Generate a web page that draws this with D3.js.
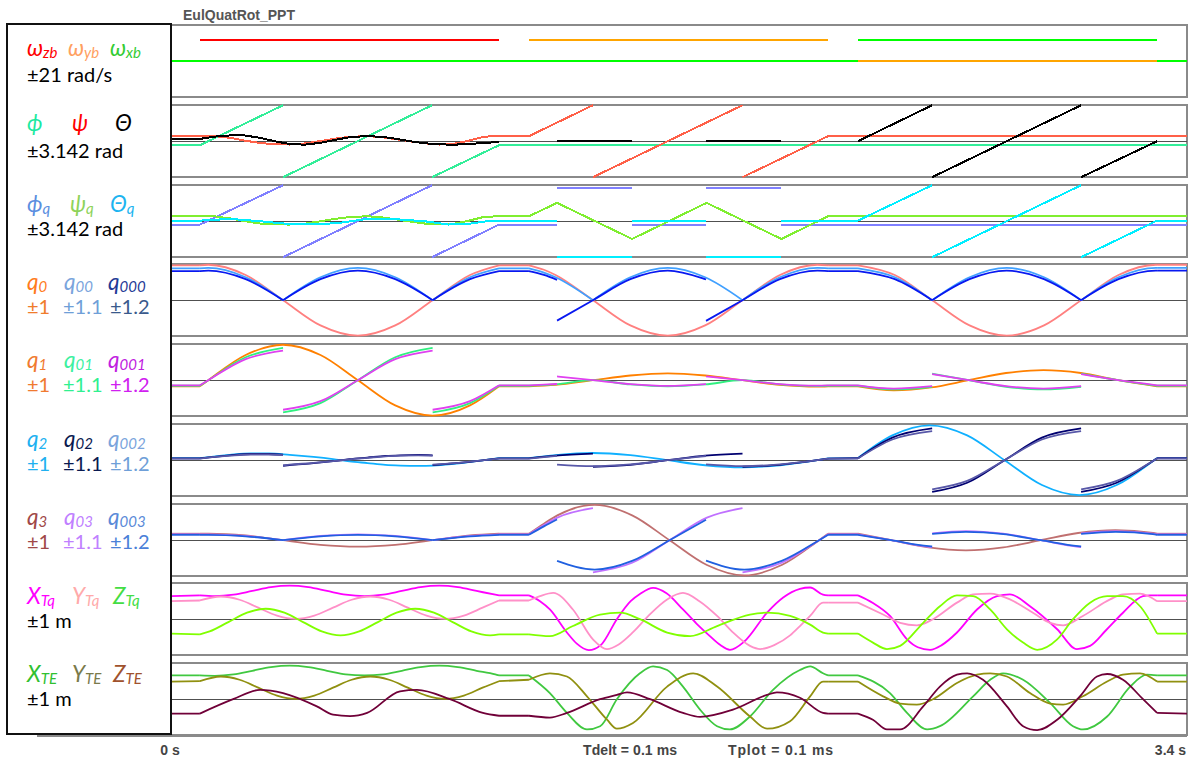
<!DOCTYPE html>
<html>
<head>
<meta charset="utf-8">
<script src="https://cdn.jsdelivr.net/npm/d3@7"></script>
<style>
  body { margin: 0; background: #fff; }
  svg { display: block; }
</style>
</head>
<body>
<svg id="chart" width="1189" height="760"></svg>
<script>
// ---------------------------------------------------------------
// Time axis and captions
// ---------------------------------------------------------------
const timeDomain = [0, 3.4];
const chartTitle = "EulQuatRot_PPT";
const timeLabels = ["0 s", "3.4 s"];
const infoLabels = ["Tdelt = 0.1 ms", "Tplot = 0.1 ms"];
// instants where the manoeuvre changes phase (traces get a corner there)
const phaseTimes = [0.1, 1.1, 1.2, 2.2, 2.3, 3.3];

// ---------------------------------------------------------------
// Traces: [time s, value], null = pen lifted (wrap or sign switch)
// ---------------------------------------------------------------
// body rates, rad/s
const wzb = [[0,0],[0.1,0],null,[0.1,12.57],[1.1,12.57],null,[1.1,0],[3.4,0]];
const wyb = [[0,0],[1.2,0],null,[1.2,12.57],[2.2,12.57],null,[2.2,0],[3.4,0]];
const wxb = [[0,0],[2.3,0],null,[2.3,12.57],[3.3,12.57],null,[3.3,0],[3.4,0]];

// Euler angles, rad
const phi = [[0,-0.35],[0.1,-0.35],[0.378,3.14],null,[0.378,-3.14],[0.876,3.14],null,[0.876,-3.14],[1.1,-0.35],[3.4,-0.35]];
const psi = [[0,0.44],[0.1,0.44],[0.15,0.44],[0.2,0.3],[0.25,0.05],[0.3,-0.15],[0.35,-0.27],[0.4,-0.29],[0.45,-0.2],[0.5,0.0],[0.55,0.22],[0.6,0.38],[0.66,0.44],[0.7,0.38],[0.75,0.2],[0.8,0.0],[0.85,-0.18],[0.9,-0.29],[0.95,-0.22],[1.0,0.05],[1.05,0.4],[1.1,0.44],[1.2,0.44],[1.414,3.14],null,[1.414,-3.14],[1.914,3.14],null,[1.914,-3.14],[2.2,0.44],[3.4,0.44]];
const theta = [[0,0.2],[0.1,0.2],[0.15,0.4],[0.2,0.5],[0.25,0.5],[0.3,0.3],[0.35,0.0],[0.4,-0.25],[0.45,-0.3],[0.5,-0.15],[0.55,0.1],[0.6,0.35],[0.66,0.45],[0.72,0.35],[0.78,0.1],[0.84,-0.15],[0.9,-0.28],[0.95,-0.3],[1.0,-0.25],[1.05,-0.15],[1.08,-0.1],[1.1,-0.05],null,[1.294,0.06],[1.545,0.06],null,[1.792,0.06],[2.043,0.06],null,[2.3,0],[2.548,3.14],null,[2.548,-3.14],[3.046,3.14],null,[3.046,-3.14],[3.3,0]];

// Euler angles recovered from the quaternion, rad
const phiQ = [[0,-0.3],[0.1,-0.3],[0.378,3.14],null,[0.378,-3.14],[0.876,3.14],null,[0.876,-3.14],[1.1,-0.3],[1.294,-0.3],null,[1.294,2.9],[1.545,2.9],null,[1.545,-0.3],[1.792,-0.3],null,[1.792,2.9],[2.043,2.9],null,[2.043,-0.3],[3.4,-0.3]];
const psiQ = [[0,0.43],[0.1,0.43],[0.15,0.42],[0.2,0.25],[0.25,0.0],[0.3,-0.2],[0.35,-0.28],[0.4,-0.29],[0.45,-0.22],[0.5,-0.02],[0.55,0.2],[0.6,0.36],[0.66,0.43],[0.7,0.36],[0.75,0.18],[0.8,-0.02],[0.85,-0.2],[0.9,-0.28],[0.95,-0.22],[1.0,0.05],[1.05,0.38],[1.1,0.43],[1.2,0.43],[1.294,1.6],[1.545,-1.55],[1.794,1.6],[2.044,-1.55],[2.2,0.43],[3.4,0.43]];
const thetaQ = [[0,0.05],[0.1,0.05],[0.2,0.2],[0.3,0.0],[0.4,-0.25],[0.5,-0.28],[0.58,-0.1],[0.66,0.2],[0.75,0.18],[0.85,0.0],[0.93,-0.29],[1.0,-0.22],[1.06,0.0],[1.1,0.05],[1.294,0.05],null,[1.294,-3.1],[1.545,-3.1],null,[1.545,0.05],[1.792,0.05],null,[1.792,-3.1],[2.043,-3.1],null,[2.043,0.05],[2.3,0.05],[2.548,3.14],null,[2.548,-3.14],[3.046,3.14],null,[3.046,-3.14],[3.3,0.05],[3.4,0.05]];

// quaternion scalar part and its two sign-normalised copies
const q0 = [[0,0.97],[0.1,0.97],[0.128,0.985],[0.253,0.70],[0.378,0],[0.503,-0.70],[0.628,-0.985],[0.753,-0.70],[0.878,0],[1.003,0.70],[1.1,0.97],[1.2,0.97],[1.25,0.845],[1.289,0.70],[1.414,0],[1.539,-0.70],[1.664,-0.985],[1.789,-0.70],[1.914,0],[2.039,0.70],[2.164,0.985],[2.2,0.97],[2.3,0.97],[2.423,0.70],[2.548,0],[2.673,-0.70],[2.797,-0.985],[2.922,-0.70],[3.046,0],[3.171,0.70],[3.296,0.985],[3.3,0.985],[3.4,0.985]];
const q00 = [[0,0.97],[0.1,0.97],[0.128,0.985],[0.253,0.70],[0.378,0],null,[0.378,0],[0.503,0.70],[0.628,0.985],[0.753,0.70],[0.878,0],null,[0.878,0],[1.003,0.70],[1.1,0.97],[1.2,0.97],[1.25,0.845],[1.289,0.70],[1.414,0],null,[1.414,0],[1.539,0.70],[1.664,0.985],[1.789,0.70],[1.914,0],null,[1.914,0],[2.039,0.70],[2.164,0.985],[2.2,0.97],[2.3,0.97],[2.423,0.70],[2.548,0],null,[2.548,0],[2.673,0.70],[2.797,0.985],[2.922,0.70],[3.046,0],null,[3.046,0],[3.171,0.70],[3.296,0.985],[3.3,0.985],[3.4,0.985]];
const q000 = [[0,0.97],[0.1,0.97],[0.128,0.985],[0.253,0.70],[0.378,0],null,[0.378,0],[0.503,0.70],[0.628,0.985],[0.753,0.70],[0.878,0],null,[0.878,0],[1.003,0.70],[1.1,0.97],[1.2,0.97],[1.25,0.845],[1.294,0.68],null,[1.294,-0.68],[1.414,0],[1.539,0.70],[1.664,0.985],[1.789,0.70],[1.792,0.69],null,[1.792,-0.69],[1.914,0],[2.039,0.70],[2.164,0.985],[2.2,0.97],[2.3,0.97],[2.423,0.70],[2.548,0],null,[2.548,0],[2.673,0.70],[2.797,0.985],[2.922,0.70],[3.046,0],null,[3.046,0],[3.171,0.70],[3.296,0.985],[3.3,0.985],[3.4,0.985]];

// quaternion x part
const q1 = [[0,-0.17],[0.1,-0.17],[0.128,0],[0.253,0.70],[0.378,0.985],[0.503,0.70],[0.628,0],[0.753,-0.70],[0.878,-0.985],[1.003,-0.70],[1.1,-0.17],[1.2,-0.17],[1.289,-0.13],[1.414,0],[1.539,0.13],[1.664,0.19],[1.789,0.13],[1.914,0],[2.039,-0.13],[2.164,-0.18],[2.2,-0.17],[2.3,-0.17],[2.42,-0.28],[2.545,-0.2],[2.67,0],[2.795,0.2],[2.92,0.28],[3.045,0.2],[3.17,0],[3.3,-0.17],[3.4,-0.17]];
const q01 = [[0,-0.17],[0.1,-0.17],[0.128,0],[0.253,0.70],[0.378,0.985],null,[0.378,-0.985],[0.503,-0.70],[0.628,0],[0.753,0.70],[0.878,0.985],null,[0.878,-0.985],[1.003,-0.70],[1.1,-0.17],[1.2,-0.17],[1.289,-0.13],[1.414,0],[1.539,-0.13],[1.664,-0.19],[1.789,-0.13],[1.914,0],[2.039,-0.13],[2.164,-0.18],[2.2,-0.17],[2.3,-0.17],[2.42,-0.28],[2.548,-0.2],null,[2.548,0.2],[2.67,0],[2.795,-0.2],[2.92,-0.28],[3.046,-0.2],null,[3.046,0.2],[3.17,0],[3.3,-0.17],[3.4,-0.17]];
const q001 = [[0,-0.17],[0.1,-0.17],[0.128,0],[0.253,0.70],[0.378,0.985],null,[0.378,-0.985],[0.503,-0.70],[0.628,0],[0.753,0.70],[0.878,0.985],null,[0.878,-0.985],[1.003,-0.70],[1.1,-0.17],[1.2,-0.17],[1.25,-0.15],[1.294,-0.125],null,[1.294,0.125],[1.414,0],[1.539,-0.13],[1.664,-0.19],[1.792,-0.13],null,[1.792,0.13],[1.914,0],[2.039,-0.13],[2.164,-0.18],[2.2,-0.17],[2.3,-0.17],[2.42,-0.28],[2.548,-0.2],null,[2.548,0.2],[2.67,0],[2.795,-0.2],[2.92,-0.28],[3.046,-0.2],null,[3.046,0.2],[3.17,0],[3.3,-0.17],[3.4,-0.17]];

// quaternion y part
const q2 = [[0,0.055],[0.1,0.055],[0.2,0.15],[0.27,0.19],[0.33,0.19],[0.4,0.15],[0.48,0.09],[0.545,0.03],[0.6,-0.03],[0.66,-0.08],[0.72,-0.13],[0.77,-0.15],[0.83,-0.16],[0.88,-0.15],[0.95,-0.1],[1.05,0.0],[1.1,0.055],[1.2,0.055],[1.289,0.14],[1.414,0.2],[1.539,0.14],[1.664,0],[1.789,-0.14],[1.914,-0.2],[2.039,-0.14],[2.164,0],[2.2,0.05],[2.3,0.06],[2.415,0.69],[2.54,0.97],[2.665,0.69],[2.79,0],[2.915,-0.69],[3.04,-0.97],[3.165,-0.69],[3.29,0],[3.3,0.06],[3.4,0.06]];
const q02 = [[0,0.055],[0.1,0.055],[0.2,0.15],[0.27,0.19],[0.33,0.19],[0.378,0.17],null,[0.378,-0.17],[0.4,-0.15],[0.48,-0.09],[0.545,-0.03],[0.6,0.03],[0.66,0.08],[0.72,0.13],[0.77,0.15],[0.83,0.16],[0.878,0.15],null,[0.878,-0.15],[0.95,-0.1],[1.05,0.0],[1.1,0.055],[1.2,0.055],[1.289,0.14],[1.414,0.2],null,[1.414,-0.2],[1.539,-0.14],[1.664,0],[1.789,0.14],[1.914,0.2],null,[1.914,-0.2],[2.039,-0.14],[2.164,0],[2.2,0.05],[2.3,0.06],[2.415,0.69],[2.548,0.97],null,[2.548,-0.97],[2.665,-0.69],[2.79,0],[2.915,0.69],[3.046,0.97],null,[3.046,-0.97],[3.165,-0.69],[3.29,0],[3.3,0.06],[3.4,0.06]];
const q002 = [[0,0.055],[0.1,0.055],[0.2,0.15],[0.27,0.19],[0.33,0.19],[0.378,0.17],null,[0.378,-0.17],[0.4,-0.15],[0.48,-0.09],[0.545,-0.03],[0.6,0.03],[0.66,0.08],[0.72,0.13],[0.77,0.15],[0.83,0.16],[0.878,0.15],null,[0.878,-0.15],[0.95,-0.1],[1.05,0.0],[1.1,0.055],[1.2,0.055],[1.25,0.1],[1.294,0.146],null,[1.294,-0.146],[1.414,-0.2],[1.539,-0.14],[1.664,0],[1.792,0.14],null,[1.792,-0.14],[1.914,-0.2],[2.039,-0.14],[2.164,0],[2.2,0.05],[2.3,0.06],[2.415,0.69],[2.548,0.97],null,[2.548,-0.97],[2.665,-0.69],[2.79,0],[2.915,0.69],[3.046,0.97],null,[3.046,-0.97],[3.165,-0.69],[3.29,0],[3.3,0.06],[3.4,0.06]];

// quaternion z part
const q3 = [[0,0.18],[0.1,0.18],[0.128,0.18],[0.253,0.13],[0.378,0],[0.503,-0.13],[0.628,-0.18],[0.753,-0.13],[0.878,0],[1.003,0.13],[1.1,0.18],[1.2,0.18],[1.25,0.46],[1.295,0.69],[1.42,0.98],[1.545,0.69],[1.67,0],[1.795,-0.69],[1.92,-0.98],[2.045,-0.69],[2.17,0],[2.2,0.18],[2.3,0.18],[2.411,0],[2.536,-0.2],[2.661,-0.28],[2.786,-0.2],[2.911,0],[3.036,0.2],[3.161,0.28],[3.286,0.2],[3.3,0.18],[3.4,0.18]];
const q03 = [[0,0.18],[0.1,0.18],[0.128,0.18],[0.253,0.13],[0.378,0],null,[0.378,0],[0.503,0.13],[0.628,0.18],[0.753,0.13],[0.878,0],null,[0.878,0],[1.003,0.13],[1.1,0.18],[1.2,0.18],[1.25,0.46],[1.295,0.69],[1.414,0.98],null,[1.414,-0.98],[1.545,-0.69],[1.67,0],[1.795,0.69],[1.914,0.98],null,[1.914,-0.98],[2.045,-0.69],[2.17,0],[2.2,0.18],[2.3,0.18],[2.411,0],[2.536,-0.2],[2.548,-0.21],null,[2.548,0.21],[2.661,0.28],[2.786,0.2],[2.911,0],[3.036,-0.2],[3.046,-0.21],null,[3.046,0.21],[3.161,0.28],[3.286,0.2],[3.3,0.18],[3.4,0.18]];
const q003 = [[0,0.18],[0.1,0.18],[0.128,0.18],[0.253,0.13],[0.378,0],null,[0.378,0],[0.503,0.13],[0.628,0.18],[0.753,0.13],[0.878,0],null,[0.878,0],[1.003,0.13],[1.1,0.18],[1.2,0.18],[1.25,0.46],[1.294,0.69],null,[1.294,-0.69],[1.42,-0.98],[1.545,-0.69],[1.67,0],[1.792,0.68],null,[1.792,-0.68],[1.92,-0.98],[2.045,-0.69],[2.17,0],[2.2,0.18],[2.3,0.18],[2.411,0],[2.536,-0.2],[2.548,-0.21],null,[2.548,0.21],[2.661,0.28],[2.786,0.2],[2.911,0],[3.036,-0.2],[3.046,-0.21],null,[3.046,0.21],[3.161,0.28],[3.286,0.2],[3.3,0.18],[3.4,0.18]];

// tip position, quaternion transform, m
const xTq = [[0,0.64],[0.1,0.66],[0.15,0.64],[0.2125,0.68],[0.275,0.785],[0.3375,0.89],[0.4,0.93],[0.4625,0.89],[0.525,0.785],[0.5875,0.68],[0.65,0.64],[0.7125,0.68],[0.775,0.785],[0.8375,0.89],[0.9,0.93],[0.9625,0.89],[1.025,0.785],[1.0875,0.68],[1.1,0.66],[1.2,0.66],[1.237,0.5],[1.27,0.27],[1.327,-0.37],[1.36,-0.68],[1.4,-0.86],[1.44,-0.72],[1.494,0],[1.54,0.5],[1.571,0.7],[1.615,0.87],[1.66,0.72],[1.715,0.27],[1.76,-0.12],[1.805,-0.47],[1.84,-0.72],[1.872,-0.85],[1.92,-0.62],[1.996,0.18],[2.05,0.6],[2.106,0.84],[2.14,0.88],[2.183,0.68],[2.2,0.66],[2.3,0.66],[2.35,0.45],[2.407,0.09],[2.464,-0.56],[2.5,-0.78],[2.541,-0.85],[2.58,-0.72],[2.631,-0.37],[2.698,0.27],[2.765,0.64],[2.808,0.69],[2.875,0.36],[2.966,-0.28],[3.032,-0.83],[3.076,-0.74],[3.13,-0.3],[3.186,0.18],[3.253,0.64],[3.276,0.66],[3.3,0.66],[3.4,0.66]];
const yTq = [[0,0.5],[0.1,0.52],[0.17,0.63],[0.2325,0.54],[0.295,0.32],[0.3575,0.1],[0.42,0.01],[0.4825,0.1],[0.545,0.32],[0.6075,0.54],[0.67,0.63],[0.7325,0.54],[0.795,0.32],[0.8575,0.1],[0.92,0.01],[0.9825,0.1],[1.045,0.32],[1.1,0.52],[1.2,0.52],[1.237,0.64],[1.281,0.73],[1.347,0.27],[1.414,-0.56],[1.461,-0.83],[1.5,-0.7],[1.548,-0.36],[1.6,0.1],[1.662,0.55],[1.715,0.73],[1.77,0.5],[1.829,0.09],[1.88,-0.35],[1.939,-0.74],[1.973,-0.83],[2.02,-0.72],[2.073,-0.45],[2.106,-0.19],[2.14,0.09],[2.183,0.46],[2.2,0.46],[2.3,0.46],[2.384,0.13],[2.441,-0.1],[2.497,-0.17],[2.551,0],[2.631,0.46],[2.685,0.69],[2.742,0.71],[2.808,0.55],[2.885,0.18],[2.942,-0.1],[2.986,-0.17],[3.052,0.09],[3.143,0.55],[3.186,0.69],[3.243,0.71],[3.3,0.5],[3.4,0.5]];
const zTq = [[0,-0.4],[0.1,-0.42],[0.1325,-0.34],[0.195,-0.08],[0.2575,0.18],[0.32,0.29],[0.3825,0.18],[0.445,-0.08],[0.5075,-0.34],[0.57,-0.45],[0.6325,-0.34],[0.695,-0.08],[0.7575,0.18],[0.82,0.29],[0.8825,0.18],[0.945,-0.08],[1.0075,-0.34],[1.07,-0.45],[1.1,-0.42],[1.2,-0.42],[1.27,-0.47],[1.347,-0.19],[1.438,0.13],[1.505,0.18],[1.571,0],[1.662,-0.37],[1.739,-0.47],[1.829,-0.19],[1.939,0.13],[1.996,0.18],[2.073,0.09],[2.14,-0.15],[2.183,-0.37],[2.2,-0.4],[2.3,-0.4],[2.35,-0.65],[2.397,-0.83],[2.441,-0.74],[2.518,-0.1],[2.574,0.36],[2.631,0.66],[2.685,0.64],[2.742,0.27],[2.798,-0.28],[2.852,-0.65],[2.899,-0.85],[2.966,-0.56],[3.019,0],[3.076,0.46],[3.133,0.64],[3.186,0.64],[3.243,0.36],[3.3,-0.4],[3.4,-0.4]];

// tip position, Euler transform, m
const xTE = [[0,0.66],[0.1,0.66],[0.15,0.65],[0.2125,0.69],[0.275,0.79],[0.3375,0.89],[0.4,0.93],[0.4625,0.89],[0.525,0.79],[0.5875,0.69],[0.65,0.66],[0.7125,0.69],[0.775,0.79],[0.8375,0.89],[0.9,0.93],[0.9625,0.89],[1.025,0.79],[1.0875,0.69],[1.1,0.66],[1.2,0.66],[1.27,0.17],[1.327,-0.38],[1.394,-0.84],[1.438,-0.75],[1.494,0],[1.571,0.72],[1.615,0.91],[1.662,0.81],[1.715,0.35],[1.772,-0.29],[1.829,-0.75],[1.872,-0.84],[1.939,-0.48],[2.016,0.26],[2.106,0.81],[2.14,0.91],[2.183,0.72],[2.2,0.66],[2.3,0.66],[2.407,0.17],[2.464,-0.38],[2.531,-0.84],[2.574,-0.75],[2.685,0.08],[2.742,0.54],[2.785,0.72],[2.852,0.54],[2.942,-0.1],[3.019,-0.75],[3.052,-0.84],[3.133,-0.48],[3.21,0.35],[3.266,0.68],[3.3,0.66],[3.4,0.66]];
const yTE = [[0,0.49],[0.1,0.5],[0.17,0.63],[0.2325,0.54],[0.295,0.32],[0.3575,0.1],[0.42,0.01],[0.4825,0.1],[0.545,0.32],[0.6075,0.54],[0.67,0.63],[0.7325,0.54],[0.795,0.32],[0.8575,0.1],[0.92,0.01],[0.9825,0.1],[1.045,0.32],[1.1,0.5],[1.2,0.54],[1.27,0.72],[1.327,0.63],[1.394,0.08],[1.461,-0.57],[1.494,-0.82],[1.548,-0.66],[1.662,0.35],[1.749,0.72],[1.829,0.35],[1.939,-0.48],[1.996,-0.82],[2.073,-0.61],[2.14,0.08],[2.183,0.49],[2.2,0.49],[2.3,0.49],[2.384,0.08],[2.441,-0.12],[2.497,-0.15],[2.551,0],[2.631,0.45],[2.698,0.68],[2.742,0.72],[2.798,0.63],[2.875,0.17],[2.942,-0.12],[2.986,-0.15],[3.052,0.08],[3.133,0.49],[3.186,0.68],[3.243,0.72],[3.3,0.49],[3.4,0.49]];
const zTE = [[0,-0.4],[0.1,-0.4],[0.211,0],[0.301,0.26],[0.378,0.17],[0.491,-0.2],[0.545,-0.43],[0.602,-0.47],[0.659,-0.38],[0.769,0.22],[0.826,0.26],[0.936,0],[1.046,-0.38],[1.1,-0.46],[1.2,-0.46],[1.27,-0.51],[1.327,-0.38],[1.438,0],[1.494,0.12],[1.528,0.19],[1.605,0],[1.715,-0.38],[1.772,-0.49],[1.882,-0.29],[1.996,0.12],[2.029,0.19],[2.106,0.04],[2.183,-0.38],[2.2,-0.4],[2.3,-0.4],[2.35,-0.57],[2.397,-0.84],[2.441,-0.84],[2.518,-0.2],[2.574,0.35],[2.631,0.68],[2.665,0.72],[2.718,0.54],[2.798,-0.2],[2.852,-0.75],[2.899,-0.86],[2.966,-0.57],[3.042,0.08],[3.099,0.63],[3.133,0.7],[3.186,0.54],[3.253,0],[3.3,-0.38],[3.4,-0.4]];

// ---------------------------------------------------------------
// Legend entries: [symbol, subscript, colour]
// ---------------------------------------------------------------
const legendNames = [
  [["ω","zb","#ff0000"],["ω","yb","#ffa060"],["ω","xb","#33cc33"]],
  [["ϕ","","#1de9a0"],["ψ","","#ff0000"],["Θ","","#000000"]],
  [["ϕ","q","#5b8ee0"],["ψ","q","#8ed35a"],["Θ","q","#1cb4f0"]],
  [["q","0","#ff7b1c"],["q","00","#7aa4dc"],["q","000","#1f3a96"]],
  [["q","1","#f07a30"],["q","01","#3cf0a0"],["q","001","#c020e0"]],
  [["q","2","#20b0f0"],["q","02","#0a1a50"],["q","002","#7aa4dc"]],
  [["q","3","#a04848"],["q","03","#c080ff"],["q","003","#5a8ad8"]],
  [["X","Tq","#ff00ff"],["Y","Tq","#ffaaaa"],["Z","Tq","#44dd44"]],
  [["X","TE","#30c030"],["Y","TE","#7a7a4a"],["Z","TE","#a0522d"]]
];
const legendRanges = [
  [["±21 rad/s","#000000"]],
  [["±3.142 rad","#000000"]],
  [["±3.142 rad","#000000"]],
  [["±1","#f07c2c"],["±1.1","#6f9fd8"],["±1.2","#3a5a8c"]],
  [["±1","#f07a30"],["±1.1","#30f090"],["±1.2","#d020f0"]],
  [["±1","#20b0f0"],["±1.1","#0a1a50"],["±1.2","#6f9fd8"]],
  [["±1","#a04848"],["±1.1","#c080ff"],["±1.2","#4a80d8"]],
  [["±1 m","#000000"]],
  [["±1 m","#000000"]]
];

// ---------------------------------------------------------------
// Panels: traces, full-scale values and pen colours
// ---------------------------------------------------------------
const panels = [
  { linear: true, series: [
    { data: wzb, range: 21, color: "#ff0000" },
    { data: wyb, range: 21, color: "#ffa500" },
    { data: wxb, range: 21, color: "#00ff00" } ] },
  { linear: true, series: [
    { data: phi, range: 3.142, color: "#33ee99" },
    { data: psi, range: 3.142, color: "#ff6048" },
    { data: theta, range: 3.142, color: "#000000" } ] },
  { linear: true, series: [
    { data: phiQ, range: 3.142, color: "#8080ff" },
    { data: psiQ, range: 3.142, color: "#80ee30" },
    { data: thetaQ, range: 3.142, color: "#00eeff" } ] },
  { series: [
    { data: q0, range: 1, color: "#ff8080" },
    { data: q00, range: 1.1, color: "#40a0ff" },
    { data: q000, range: 1.2, color: "#0818f0" } ] },
  { series: [
    { data: q1, range: 1, color: "#ff8000" },
    { data: q01, range: 1.1, color: "#30f080" },
    { data: q001, range: 1.2, color: "#e040f0" } ] },
  { series: [
    { data: q2, range: 1, color: "#10b0ff" },
    { data: q02, range: 1.1, color: "#000070" },
    { data: q002, range: 1.2, color: "#5858a8" } ] },
  { series: [
    { data: q3, range: 1, color: "#c07070" },
    { data: q03, range: 1.1, color: "#c070ff" },
    { data: q003, range: 1.2, color: "#2060e0" } ] },
  { series: [
    { data: xTq, range: 1, color: "#ff00ff" },
    { data: yTq, range: 1, color: "#ff90c8" },
    { data: zTq, range: 1, color: "#80ff00" } ] },
  { series: [
    { data: xTE, range: 1, color: "#40c840" },
    { data: yTE, range: 1, color: "#909010" },
    { data: zTE, range: 1, color: "#700038" } ] }
];

// ---------------------------------------------------------------
// Layout
// ---------------------------------------------------------------
const plotLeft = 171, plotRight = 1187;
const panelTop0 = 25, panelStep = 79.75, panelH = 72.4;
const nameBase = [56, 131, 212, 289.5, 367.5, 446.5, 525, 604, 682];
const rangeBase = [82, 158, 236, 314, 392, 471, 549, 628, 706];
const nameCols = [[27,68,110],[27,72,115],[27,70,110],[27,64,108],[27,64,108],[27,64,108],[27,64,108],[27,72,113],[27,72,113]];
const rangeCols = [27, 63, 110];
const legendFont = "Lato, 'Open Sans', 'Noto Sans', sans-serif";
const labelFont = "'Liberation Sans', Arial, sans-serif";

const svg = d3.select("#chart");
const x = d3.scaleLinear().domain(timeDomain).range([170, plotRight]);

// split a trace into pen strokes: at lifted-pen markers and at phase changes
function strokes(data) {
  const out = []; let cur = [];
  data.forEach(p => {
    if (p === null) { if (cur.length > 1) out.push(cur); cur = []; return; }
    cur.push(p);
    if (phaseTimes.includes(p[0]) && cur.length > 1) { out.push(cur); cur = [p]; }
  });
  if (cur.length > 1) out.push(cur);
  return out;
}

// title
svg.append("text").attr("x", 183).attr("y", 20)
  .style("font-family", labelFont).style("font-weight", "bold")
  .style("font-size", "14px").attr("fill", "#555")
  .text(chartTitle);

const defs = svg.append("defs");

panels.forEach((panel, i) => {
  const top = Math.round(panelTop0 + i * panelStep);
  const bottom = top + panelH;
  const mid = Math.round((top + bottom) / 2) + 0.5;
  const g = svg.append("g");

  // frame and zero line
  g.append("rect").attr("x", plotLeft).attr("y", top)
    .attr("width", plotRight - plotLeft).attr("height", panelH)
    .attr("fill", "none").attr("stroke", "#8a8a8a").attr("stroke-width", 2)
    .attr("shape-rendering", "crispEdges");
  g.append("line").attr("x1", plotLeft).attr("x2", plotRight)
    .attr("y1", mid).attr("y2", mid)
    .attr("stroke", "#505050").attr("stroke-width", 1.3)
    .attr("shape-rendering", "crispEdges");

  defs.append("clipPath").attr("id", "clip" + i)
    .append("rect").attr("x", plotLeft).attr("y", top - 1.5)
    .attr("width", plotRight - plotLeft).attr("height", panelH + 3);

  const traces = g.append("g").attr("clip-path", `url(#clip${i})`);
  panel.series.forEach(s => {
    const y = d3.scaleLinear().domain([-s.range, s.range]).range([bottom - 0.2, top + 0.2]);
    const line = d3.line().x(d => x(d[0])).y(d => y(d[1]))
      .curve(panel.linear ? d3.curveLinear : d3.curveMonotoneX);
    strokes(s.data).forEach(seg => {
      traces.append("path").attr("d", line(seg))
        .attr("fill", "none").attr("stroke", s.color)
        .attr("stroke-width", panel.linear ? 2 : 1.8).attr("stroke-linejoin", "round")
        .attr("shape-rendering", panel.linear ? "crispEdges" : "auto");
    });
  });

  // legend text
  legendNames[i].forEach((n, k) => {
    const t = svg.append("text").attr("x", nameCols[i][k]).attr("y", nameBase[i])
      .attr("fill", n[2]).style("font-family", legendFont).style("font-style", "italic");
    t.append("tspan").text(n[0]).style("font-size", "22.5px");
    if (n[1]) t.append("tspan").text(n[1]).style("font-size", "15px").attr("dy", 2);
  });
  legendRanges[i].forEach((r, k) => {
    svg.append("text").attr("x", legendRanges[i].length > 1 ? rangeCols[k] : 27)
      .attr("y", rangeBase[i]).attr("fill", r[1])
      .style("font-family", legendFont).style("font-size", "20px")
      .text(r[0]);
  });
});

// base line under the last panel and the legend box
svg.append("line").attr("x1", 37).attr("x2", plotRight).attr("y1", 735.5).attr("y2", 735.5)
  .attr("stroke", "#8a8a8a").attr("stroke-width", 2).attr("shape-rendering", "crispEdges");
svg.append("rect").attr("x", 7).attr("y", 24).attr("width", 164).attr("height", 710)
  .attr("fill", "none").attr("stroke", "#111").attr("stroke-width", 1.6)
  .attr("shape-rendering", "crispEdges");

// time captions
const capStyle = sel => sel.style("font-family", labelFont).style("font-weight", "bold")
  .style("font-size", "14px").attr("fill", "#444");
capStyle(svg.append("text").attr("x", x(timeDomain[0])).attr("y", 755)
  .attr("text-anchor", "middle").text(timeLabels[0]));
capStyle(svg.append("text").attr("x", 1186).attr("y", 755)
  .attr("text-anchor", "end").text(timeLabels[1]));
capStyle(svg.append("text").attr("x", 583).attr("y", 755)
  .attr("textLength", 94).attr("lengthAdjust", "spacing").text(infoLabels[0]));
capStyle(svg.append("text").attr("x", 728).attr("y", 755)
  .attr("textLength", 105).attr("lengthAdjust", "spacing").text(infoLabels[1]));
</script>
</body>
</html>
